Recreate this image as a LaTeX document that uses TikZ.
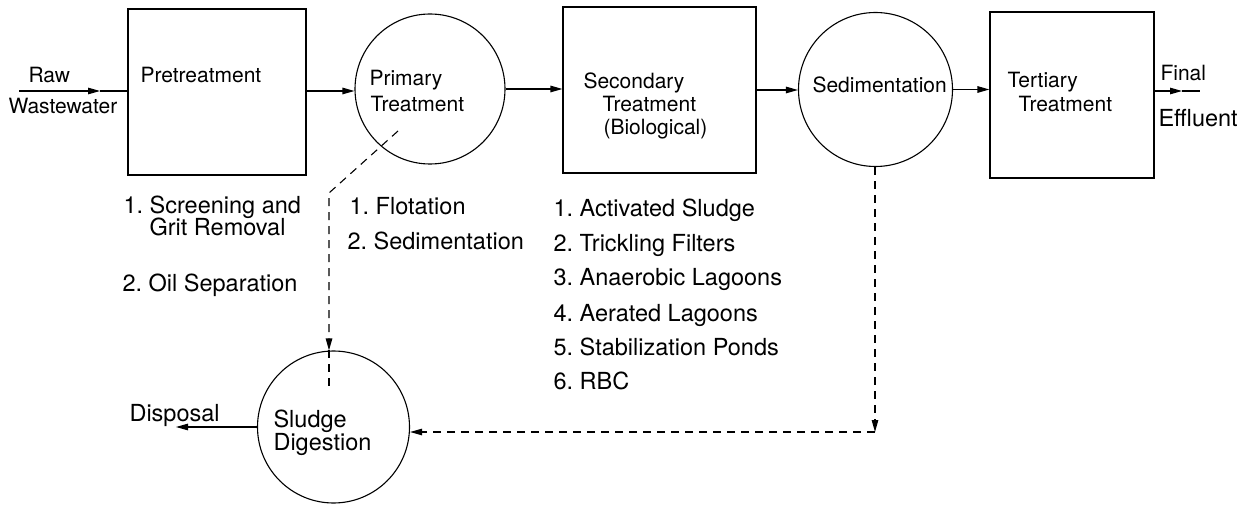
\documentclass[tikz,border=0pt]{standalone}
\usepackage{fontspec}
\setmainfont{TeX Gyre Heros}
\usetikzlibrary{arrows.meta}
\frenchspacing
\begin{document}
\begin{tikzpicture}[x=1pt,y=-1pt,
  line width=1.1pt,
  boxnode/.style={draw,rectangle,inner sep=0pt},
  circnode/.style={draw,circle,inner sep=0pt},
  lbl/.style={anchor=base west,inner sep=0pt,font=\fontsize{21}{25}\selectfont},
  lst/.style={anchor=base west,inner sep=0pt,font=\fontsize{23.5}{28}\selectfont},
  arr/.style={-{Triangle[length=12pt,width=6.5pt]}},
  dsh/.style={dash pattern=on 8pt off 6pt}]
\useasboundingbox (0,0) rectangle (1251,505);
% process units
\node[boxnode,minimum width=178pt,minimum height=166pt] (pre) at (217,92) {};
\node[circnode,minimum size=150pt] (prim) at (430,89) {};
\node[boxnode,minimum width=193pt,minimum height=166pt] (sec) at (659.5,90) {};
\node[circnode,minimum size=154pt] (sed) at (875.5,89.5) {};
\node[boxnode,minimum width=164pt,minimum height=166pt] (ter) at (1072,95) {};
\node[circnode,minimum size=152pt] (sludge) at (333.5,427) {};
% texts inside units
\node[lbl] (tpre) at (140,83) {Pretreatment};
\node[lbl] (tprim1) at (369,86) {Primary};
\node[lbl] (tprim2) at (370,112) {Treatment};
\node[lbl] (tsec1) at (583,89) {Secondary};
\node[lbl] (tsec2) at (602,112) {Treatment};
\node[lbl] (tsec3) at (603,135) {(Biological)};
\node[lbl] (tsed) at (812,93) {Sedimentation};
\node[lbl] (tter1) at (1007,88) {Tertiary};
\node[lbl] (tter2) at (1018,112) {Treatment};
\node[lst] (tsl1) at (273,427) {Sludge};
\node[lst] (tsl2) at (273,450) {Digestion};
% inlet / outlet labels
\node[lbl] (raw) at (28,83) {Raw};
\node[lbl] (ww) at (8,114) {Wastewater};
\node[lbl] (final) at (1160,81) {Final};
\node[lst] (eff) at (1158,127) {Effluent};
\node[lst] (disp) at (129,421) {Disposal};
% lists
\node[lst] (l1a) at (123,214) {1. Screening and};
\node[lst] (l1b) at (149,236) {Grit Removal};
\node[lst] (l1c) at (122,291) {2. Oil Separation};
\node[lst] (l2a) at (349,215) {1. Flotation};
\node[lst] (l2b) at (347,250) {2. Sedimentation};
\node[lst] (l3a) at (553,217) {1. Activated Sludge};
\node[lst] (l3b) at (553,252) {2. Trickling Filters};
\node[lst] (l3c) at (553,286) {3. Anaerobic Lagoons};
\node[lst] (l3d) at (553,321) {4. Aerated Lagoons};
\node[lst] (l3e) at (553,355) {5. Stabilization Ponds};
\node[lst] (l3f) at (553,389) {6. RBC};
% main flow
\coordinate (rawstart) at (19,91);
\coordinate (rawmid) at (100,91);
\draw[arr] (rawstart) -- (rawmid);
\draw (rawmid) -- (pre.west |- rawmid);
\draw[arr] (pre.east |- rawmid) -- (prim.west |- rawmid);
\draw[arr] (prim.east) -- (prim.east -| sec.west);
\draw[arr] (sec.east) -- (sec.east -| sed.west);
\draw[arr] (sed.east) -- (sed.east -| ter.west);
\coordinate (finmid) at (1182,91);
\coordinate (finend) at (1200,91);
\draw[arr] (ter.east |- finmid) -- (finmid);
\draw (finmid) -- (finend);
% sludge lines
\coordinate (pstart) at (398,131);
\coordinate (pcorner) at (329,193);
\draw[dsh,arr] (pstart) -- (pcorner) -- (pcorner |- sludge.north);
\draw[dsh] (pcorner |- sludge.north) -- ++(0,37);
\coordinate (scorner) at (875,432);
\draw[dsh,arr] (sed.south -| scorner) -- (scorner);
\draw[dsh,arr] (scorner) -- (sludge.east |- scorner);
\coordinate (dispend) at (176,427);
\draw[arr] (sludge.west) -- (sludge.west -| dispend);
\end{tikzpicture}
\end{document}
